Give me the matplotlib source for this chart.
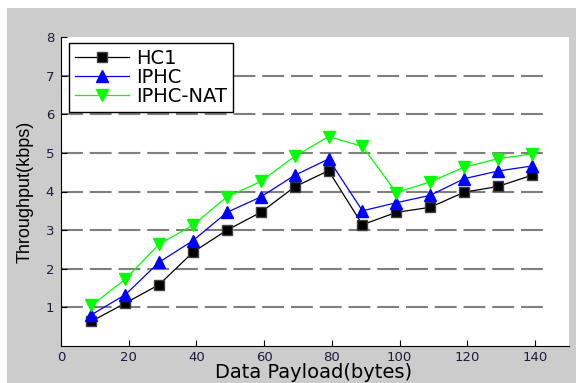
import matplotlib
matplotlib.use('Agg')
import matplotlib.pyplot as plt
from matplotlib.patches import Rectangle

payload = [9, 19, 29, 39, 49, 59, 69, 79, 89, 99, 109, 119, 129, 139]
hc1 = [0.64, 1.11, 1.59, 2.43, 3.00, 3.46, 4.12, 4.54, 3.14, 3.46, 3.59, 3.98, 4.13, 4.42]
iphc = [0.81, 1.33, 2.17, 2.73, 3.46, 3.86, 4.42, 4.84, 3.50, 3.71, 3.90, 4.33, 4.53, 4.66]
iphc_nat = [1.05, 1.73, 2.64, 3.13, 3.86, 4.26, 4.91, 5.42, 5.17, 3.97, 4.25, 4.63, 4.85, 4.97]
xticks = [0, 20, 40, 60, 80, 100, 120, 140]
yticks = [1, 2, 3, 4, 5, 6, 7, 8]

plt.rcParams['font.family'] = ['DejaVu Sans']

fig = plt.figure(figsize=(5.76, 3.83), dpi=100, facecolor='#cccccc')
# white margin of the screenshot (top and left)
fig.patches.append(Rectangle((0, 1 - 8/383), 1, 8/383, transform=fig.transFigure,
                             facecolor='white', edgecolor='none', zorder=-1))
fig.patches.append(Rectangle((0, 0), 7/576, 1, transform=fig.transFigure,
                             facecolor='white', edgecolor='none', zorder=-1))

ax = fig.add_axes([61/576, 37/383, 508/576, 309/383])
ax.set_facecolor('white')

for y in yticks[:-1]:
    ax.plot([0, 144], [y, y], color='#7f7f7f', lw=1.5, dashes=(10.5, 3.3), zorder=1)

ax.plot(payload, hc1, '-s', color='black', lw=0.9, ms=7.5, mec='#404040', label='HC1', zorder=3)
ax.plot(payload, iphc, '-^', color='blue', lw=0.9, ms=8, label='IPHC', zorder=3)
ax.plot(payload, iphc_nat, '-v', color='#00ff00', lw=0.9, ms=8, label='IPHC-NAT', zorder=3)

ax.set_xlim(0, 150)
ax.set_ylim(0, 8)
ax.set_xticks(xticks)
ax.set_yticks(yticks)
ax.spines['top'].set_visible(False)
ax.spines['right'].set_visible(False)
ax.tick_params(direction='in', length=4, labelsize=9.5, labelcolor='#1c1c3c')
ax.tick_params(axis='x', pad=3.5)
ax.tick_params(axis='y', pad=5)

leg = ax.legend(loc='upper left', bbox_to_anchor=(0.016, 0.981), borderaxespad=0,
                fancybox=False, fontsize=14, handlelength=2.8, handletextpad=0.35,
                labelspacing=0.0, borderpad=0.3, framealpha=1)
leg.get_frame().set_edgecolor('black')
leg.get_frame().set_linewidth(1)

fig.text(25/576, 0.5, 'Throughput(kbps)', rotation=90, ha='center', va='center',
         fontsize=13, family='Liberation Sans')
fig.text(314/576, 0.5/383, 'Data Payload(bytes)', ha='center', va='bottom', fontsize=14)

fig.savefig('out.png', dpi=100, facecolor=fig.get_facecolor())
